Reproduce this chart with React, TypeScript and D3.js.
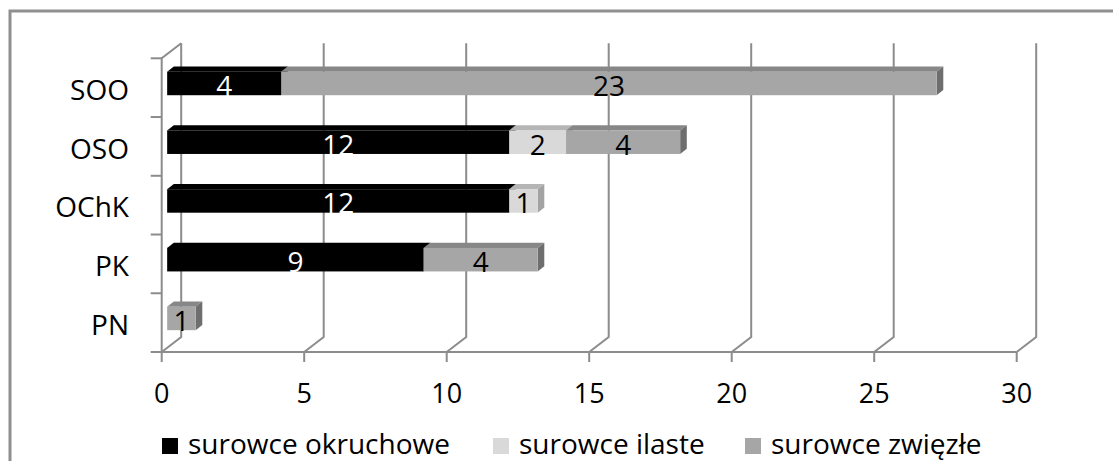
import React from "react";
import * as d3 from "d3";

// Categories listed from top to bottom
const categories = ["SOO", "OSO", "OChK", "PK", "PN"];
const okruchowe = [4, 12, 12, 9, 0];
const ilaste = [0, 2, 1, 0, 0];
const zwiezle = [23, 4, 0, 4, 1];
const seriesNames = ["surowce okruchowe", "surowce ilaste", "surowce zwięzłe"];
const valueTicks = [0, 5, 10, 15, 20, 25, 30];

const W = 1113;
const H = 461;
const FONT = "'Open Sans', 'Noto Sans', sans-serif";
const GRID = "#8c8c8c";

// Face colours per series: front, top, side
const palette = [
  { front: "#000000", top: "#000000", side: "#000000", label: "#ffffff" },
  { front: "#d9d9d9", top: "#b5b5b5", side: "#a3a3a3", label: "#000000" },
  { front: "#a6a6a6", top: "#878787", side: "#6e6e6e", label: "#000000" },
];

// Oblique projection for the 3D depth axis
const DX = 19.5;
const DY = 15;
const T0 = 0.28; // bar front depth
const T1 = 0.62; // bar back depth

export default function App() {
  const x = d3.scaleLinear().domain([0, 30]).range([161.7, 1016.7]);
  const floorY = 352;
  const topY = 58.3;
  const y = d3
    .scaleBand<string>()
    .domain(categories)
    .range([topY, floorY])
    .paddingInner(0.6)
    .paddingOuter(0.3);
  const bw = y.bandwidth();

  const proj = (v: number, yy: number, t: number): [number, number] => [
    x(v) + t * DX,
    yy - t * DY,
  ];
  const pts = (arr: [number, number][]) => arr.map((p) => p.join(",")).join(" ");

  const series = [okruchowe, ilaste, zwiezle];
  const stack = d3
    .stack<number>()
    .keys([0, 1, 2] as any)
    .value((i: number, k: any) => series[k][i]);
  const stacked = stack(categories.map((_, i) => i));

  // Band boundaries for category tick marks
  const boundaries = d3
    .range(categories.length + 1)
    .map((i) => topY + (floorY - topY) * (i / categories.length));

  const legendX = [162, 493, 745];

  return (
    <svg
      width={W}
      height={H}
      style={{ position: "absolute", left: 0, top: 0, background: "#fff" }}
      fontFamily={FONT}
    >
      <rect x={10} y={11} width={W + 20} height={H + 20} fill="#fff" stroke="#8f8f8f" strokeWidth={3} />

      {/* walls and gridlines */}
      <g stroke={GRID} strokeWidth={2} fill="none">
        {valueTicks.map((v) => {
          const [bx, by] = proj(v, floorY, 1);
          const [tx, ty] = proj(v, topY, 1);
          return (
            <g key={v}>
              <polyline points={pts([[x(v), floorY], [bx, by], [tx, ty]])} />
              <line x1={x(v)} x2={x(v)} y1={floorY} y2={floorY + 10} />
            </g>
          );
        })}
        <line x1={x(0) - 2} x2={x(30)} y1={floorY} y2={floorY} />
        <polyline points={pts([[x(0), floorY], [x(0), topY], proj(0, topY, 1)])} />
        {boundaries.map((b, i) => (
          <line key={i} x1={x(0) - 11} x2={x(0)} y1={b} y2={b} />
        ))}
      </g>

      {/* stacked 3D bars */}
      {categories.map((c, ci) => {
        const yb = y(c)!;
        return (
          <g key={c}>
            {stacked.map((s, si) => {
              const v0 = s[ci][0];
              const v1 = s[ci][1];
              if (v1 - v0 <= 0) return null;
              const col = palette[si];
              const [fx0, fy0] = proj(v0, yb, T0);
              const [fx1, fy1] = proj(v1, yb + bw, T0);
              return (
                <g key={si}>
                  <polygon
                    points={pts([proj(v0, yb, T0), proj(v1, yb, T0), proj(v1, yb, T1), proj(v0, yb, T1)])}
                    fill={col.top}
                  />
                  <polygon
                    points={pts([proj(v1, yb, T0), proj(v1, yb + bw, T0), proj(v1, yb + bw, T1), proj(v1, yb, T1)])}
                    fill={col.side}
                  />
                  <rect x={fx0} y={fy0} width={fx1 - fx0} height={fy1 - fy0} fill={col.front} />
                </g>
              );
            })}
          </g>
        );
      })}

      {/* value labels */}
      {categories.map((c, ci) => {
        const yb = y(c)!;
        return stacked.map((s, si) => {
          const v0 = s[ci][0];
          const v1 = s[ci][1];
          const val = series[si][ci];
          if (val <= 0) return null;
          const [fx0, fy0] = proj(v0, yb, T0);
          const [fx1, fy1] = proj(v1, yb + bw, T0);
          return (
            <text
              key={c + si}
              x={(fx0 + fx1) / 2}
              y={(fy0 + fy1) / 2 + 2.5}
              dy="0.35em"
              textAnchor="middle"
              fontSize={28}
              fill={palette[si].label}
            >
              {val}
            </text>
          );
        });
      })}

      {/* category labels */}
      {categories.map((c) => (
        <text
          key={c}
          x={129}
          y={y(c)! + bw / 2 + 2.5}
          dy="0.35em"
          textAnchor="end"
          fontSize={28}
          fill="#000"
        >
          {c}
        </text>
      ))}

      {/* value axis labels */}
      {valueTicks.map((v) => (
        <text key={v} x={x(v)} y={403} textAnchor="middle" fontSize={27} fill="#000">
          {v}
        </text>
      ))}

      {/* legend */}
      {seriesNames.map((n, i) => (
        <g key={n}>
          <rect x={legendX[i]} y={438} width={16} height={16} fill={palette[i].front} />
          <text x={legendX[i] + 26} y={454} fontSize={28} fill="#000">
            {n}
          </text>
        </g>
      ))}
    </svg>
  );
}
